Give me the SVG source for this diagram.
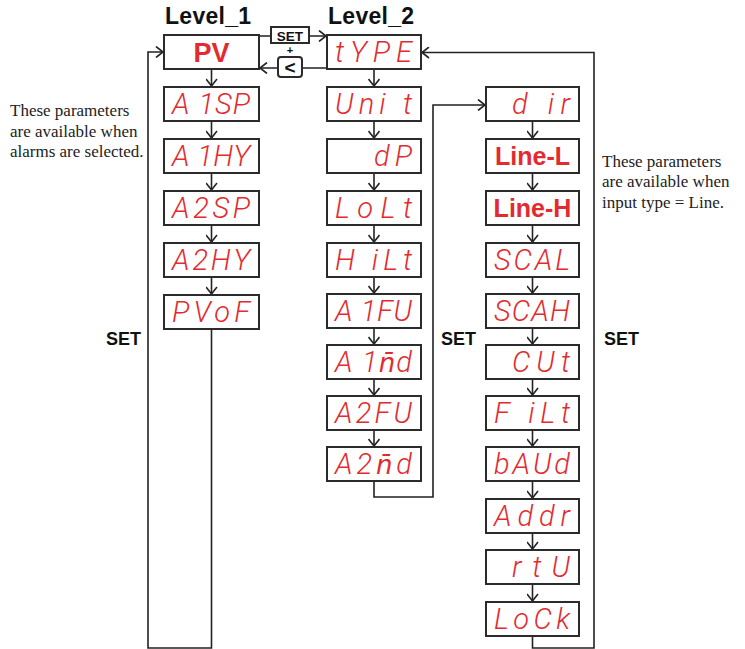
<svg xmlns="http://www.w3.org/2000/svg" width="745" height="649" viewBox="0 0 745 649">
<style>
.box{fill:#fff;stroke:#2b2b2b;stroke-width:2}
.seg{font-family:Roboto,"Liberation Sans",sans-serif;font-style:italic;font-weight:300;font-size:29px;fill:#e32b2f}
.dv{font-family:"DejaVu Sans",sans-serif;font-weight:normal;font-size:26px}
.bold{font-family:"Liberation Sans",Arial,sans-serif;font-weight:bold;fill:#e32b2f}
.lvl{font-family:"Liberation Sans",Arial,sans-serif;font-weight:bold;font-size:23px;fill:#111}
.set{font-family:"Liberation Sans",Arial,sans-serif;font-weight:bold;font-size:18px;fill:#111}
.note{font-family:"Liberation Serif","Times New Roman",serif;font-size:17px;fill:#222}
.ln{fill:none;stroke:#222;stroke-width:1.6}
</style>
<defs>
<marker id="ah" markerWidth="12" markerHeight="12" refX="0" refY="0" viewBox="-9 -6 10 12" orient="auto" markerUnits="userSpaceOnUse">
<path d="M-7,-5.5 L0,0 L-7,5.5" fill="none" stroke="#222" stroke-width="1.6"/>
</marker>
</defs>

<text class="lvl" x="165" y="24" textLength="86">Level_1</text>
<text class="lvl" x="328" y="24" textLength="86">Level_2</text>

<g id="connectors">
<path class="ln" d="M259,36 H326" marker-end="url(#ah)"/>
<path class="ln" d="M327,68 H260" marker-end="url(#ah)"/>
<path class="ln" d="M211.5,329 V648 H148 V52 H163" marker-end="url(#ah)"/>
<path class="ln" d="M211.5,69 V86" marker-end="url(#ah)"/>
<path class="ln" d="M211.5,121 V138" marker-end="url(#ah)"/>
<path class="ln" d="M211.5,173 V190" marker-end="url(#ah)"/>
<path class="ln" d="M211.5,225 V242" marker-end="url(#ah)"/>
<path class="ln" d="M211.5,277 V294" marker-end="url(#ah)"/>
<path class="ln" d="M374,69 V86" marker-end="url(#ah)"/>
<path class="ln" d="M374,121 V138" marker-end="url(#ah)"/>
<path class="ln" d="M374,173 V190" marker-end="url(#ah)"/>
<path class="ln" d="M374,225 V242" marker-end="url(#ah)"/>
<path class="ln" d="M374,277 V293" marker-end="url(#ah)"/>
<path class="ln" d="M374,328 V344" marker-end="url(#ah)"/>
<path class="ln" d="M374,379 V395" marker-end="url(#ah)"/>
<path class="ln" d="M374,430 V446" marker-end="url(#ah)"/>
<path class="ln" d="M374,481 V497 H433 V105 H485" marker-end="url(#ah)"/>
<path class="ln" d="M532.5,121 V138" marker-end="url(#ah)"/>
<path class="ln" d="M532.5,173 V190" marker-end="url(#ah)"/>
<path class="ln" d="M532.5,225 V242" marker-end="url(#ah)"/>
<path class="ln" d="M532.5,277 V293" marker-end="url(#ah)"/>
<path class="ln" d="M532.5,328 V344" marker-end="url(#ah)"/>
<path class="ln" d="M532.5,379 V395" marker-end="url(#ah)"/>
<path class="ln" d="M532.5,430 V446" marker-end="url(#ah)"/>
<path class="ln" d="M532.5,481 V498" marker-end="url(#ah)"/>
<path class="ln" d="M532.5,533 V549" marker-end="url(#ah)"/>
<path class="ln" d="M532.5,584 V601" marker-end="url(#ah)"/>
<path class="ln" d="M532.5,636 V648 H594 V52.5 H422" marker-end="url(#ah)"/>
</g>

<g id="key">
<rect class="box" x="271" y="27" width="38" height="16"/>
<text x="290" y="40.5" text-anchor="middle" style="font-family:'Liberation Sans',Arial,sans-serif;font-weight:bold;font-size:13.5px;fill:#111">SET</text>
<text x="290" y="53.6" text-anchor="middle" style="font-family:'Liberation Sans',Arial,sans-serif;font-weight:bold;font-size:11px;fill:#111">+</text>
<rect class="box" x="278" y="57" width="24" height="20" rx="3"/>
<text x="290" y="74" text-anchor="middle" style="font-family:'Liberation Sans',Arial,sans-serif;font-weight:bold;font-size:19px;fill:#111">&lt;</text>
</g>

<g id="PV"><rect class="box" x="164" y="35" width="95" height="34"/><text class="bold" x="211.5" y="62" text-anchor="middle" font-size="27">PV</text></g>
<g id="A1SP"><rect class="box" x="164" y="87" width="95" height="34"/><text class="seg" x="172" y="114" textLength="78">A 1SP</text></g>
<g id="A1HY"><rect class="box" x="164" y="139" width="95" height="34"/><text class="seg" x="172" y="166" textLength="78">A 1HY</text></g>
<g id="A2SP"><rect class="box" x="164" y="191" width="95" height="34"/><text class="seg" x="172" y="218" textLength="78">A2SP</text></g>
<g id="A2HY"><rect class="box" x="164" y="243" width="95" height="34"/><text class="seg" x="172" y="270" textLength="78">A2HY</text></g>
<g id="PVoF"><rect class="box" x="164" y="295" width="95" height="34"/><text class="seg" x="172" y="322" textLength="78">PVoF</text></g>

<g id="tYPE"><rect class="box" x="327" y="35" width="94" height="34"/><text class="seg" x="335" y="62" textLength="77">tYPE</text></g>
<g id="Unit"><rect class="box" x="327" y="87" width="94" height="34"/><text class="seg" x="335" y="114" textLength="77">Uni t</text></g>
<g id="dP"><rect class="box" x="327" y="139" width="94" height="34"/><text class="seg" x="412" y="166" text-anchor="end" textLength="38">dP</text></g>
<g id="LoLt"><rect class="box" x="327" y="191" width="94" height="34"/><text class="seg" x="335" y="218" textLength="77">LoLt</text></g>
<g id="HiLt"><rect class="box" x="327" y="243" width="94" height="34"/><text class="seg" x="335" y="270" textLength="77">H iLt</text></g>
<g id="A1FU"><rect class="box" x="327" y="294" width="94" height="34"/><text class="seg" x="335" y="321" textLength="77">A 1FU</text></g>
<g id="A1nd"><rect class="box" x="327" y="345" width="94" height="34"/><text class="seg" x="335" y="372" textLength="77">A 1<tspan class="dv">n̄</tspan>d</text></g>
<g id="A2FU"><rect class="box" x="327" y="396" width="94" height="34"/><text class="seg" x="335" y="423" textLength="77">A2FU</text></g>
<g id="A2nd"><rect class="box" x="327" y="447" width="94" height="34"/><text class="seg" x="335" y="474" textLength="77">A2<tspan class="dv">n̄</tspan>d</text></g>

<g id="dir"><rect class="box" x="486" y="87" width="93" height="34"/><text class="seg" x="570" y="114" text-anchor="end" textLength="58">d ir</text></g>
<g id="LineL"><rect class="box" x="486" y="139" width="93" height="34"/><text class="bold" x="532.5" y="165" text-anchor="middle" font-size="25">Line-L</text></g>
<g id="LineH"><rect class="box" x="486" y="191" width="93" height="34"/><text class="bold" x="532.5" y="217" text-anchor="middle" font-size="25">Line-H</text></g>
<g id="SCAL"><rect class="box" x="486" y="243" width="93" height="34"/><text class="seg" x="494" y="270" textLength="76">SCAL</text></g>
<g id="SCAH"><rect class="box" x="486" y="294" width="93" height="34"/><text class="seg" x="494" y="321" textLength="76">SCAH</text></g>
<g id="CUt"><rect class="box" x="486" y="345" width="93" height="34"/><text class="seg" x="570" y="372" text-anchor="end" textLength="58">CUt</text></g>
<g id="FiLt"><rect class="box" x="486" y="396" width="93" height="34"/><text class="seg" x="494" y="423" textLength="76">F iLt</text></g>
<g id="bAUd"><rect class="box" x="486" y="447" width="93" height="34"/><text class="seg" x="494" y="474" textLength="76">bAUd</text></g>
<g id="Addr"><rect class="box" x="486" y="499" width="93" height="34"/><text class="seg" x="494" y="526" textLength="76">Addr</text></g>
<g id="rtU"><rect class="box" x="486" y="550" width="93" height="34"/><text class="seg" x="570" y="577" text-anchor="end" textLength="58">rtU</text></g>
<g id="LoCk"><rect class="box" x="486" y="602" width="93" height="34"/><text class="seg" x="494" y="629" textLength="76">LoCk</text></g>

<text class="set" x="106" y="345">SET</text>
<text class="set" x="441" y="345">SET</text>
<text class="set" x="604" y="345">SET</text>

<text class="note" x="10" y="116">These parameters</text>
<text class="note" x="10" y="137">are available when</text>
<text class="note" x="10" y="157">alarms are selected.</text>
<text class="note" x="602" y="167">These parameters</text>
<text class="note" x="602" y="187">are available when</text>
<text class="note" x="602" y="208">input type = Line.</text>
</svg>
